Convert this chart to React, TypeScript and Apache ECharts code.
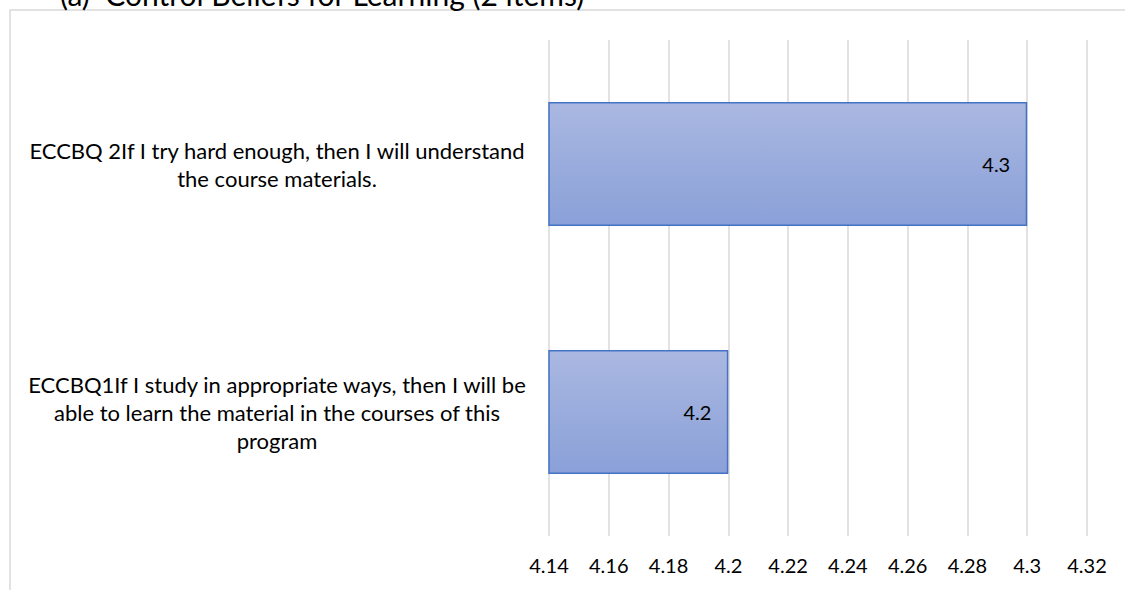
import React, { useEffect, useRef } from "react";
import * as echarts from "echarts";

const categories = [
  "ECCBQ1If I study in appropriate ways, then I will be\nable to learn the material in the courses of this\nprogram",
  "ECCBQ 2If I try hard enough, then I will understand\nthe course materials.",
];
const values = [4.2, 4.3];
const axisMin = 4.14;
const axisMax = 4.32;
const axisStep = 0.02;
const titleText = "(a)  Control Beliefs for Learning (2 items)";

const FONT = "Lato";

export default function App() {
  const ref = useRef<HTMLDivElement>(null);
  useEffect(() => {
    if (!ref.current) return;
    const chart = echarts.init(ref.current, undefined, { renderer: "svg" });
    chart.setOption({
      animation: false,
      backgroundColor: "#ffffff",
      textStyle: { fontFamily: FONT },
      graphic: [
        {
          type: "rect",
          shape: { x: 10, y: 10, width: 1300, height: 800 },
          style: { fill: "none", stroke: "#d9d9d9", lineWidth: 1.5 },
          z: 0,
        },
        {
          type: "text",
          x: 60,
          y: 9,
          style: {
            text: titleText,
            fontSize: 30,
            fontFamily: FONT,
            fill: "#000000",
            verticalAlign: "bottom",
          },
        },
      ],
      grid: {
        left: 549,
        right: 38,
        top: 40,
        bottom: 54,
        containLabel: false,
        outerBoundsMode: "none",
      },
      xAxis: {
        type: "value",
        min: axisMin,
        max: axisMax,
        interval: axisStep,
        axisLine: { show: false },
        axisTick: { show: false },
        splitLine: { show: true, lineStyle: { color: "#d9d9d9", width: 1.5 } },
        axisLabel: {
          margin: 19,
          fontSize: 20,
          fontFamily: FONT,
          color: "#000000",
          formatter: (v: number) => String(parseFloat(v.toFixed(2))),
        },
      },
      yAxis: {
        type: "category",
        data: categories,
        axisLine: { show: false },
        axisTick: { show: false },
        splitLine: { show: false },
        axisLabel: {
          margin: 272,
          align: "center",
          fontSize: 22,
          lineHeight: 28,
          fontFamily: FONT,
          color: "#000000",
        },
      },
      series: [
        {
          type: "bar",
          data: values,
          barWidth: "50%",
          itemStyle: {
            color: new echarts.graphic.LinearGradient(0, 0, 0, 1, [
              { offset: 0, color: "#aab8e1" },
              { offset: 1, color: "#8aa0d8" },
            ]),
            borderColor: "#4472c4",
            borderWidth: 1.5,
          },
          label: {
            show: true,
            position: "insideRight",
            distance: 17,
            fontSize: 20,
            fontFamily: FONT,
            color: "#000000",
            formatter: (p: any) => String(p.value),
          },
        },
      ],
    });
    return () => chart.dispose();
  }, []);
  return (
    <div
      ref={ref}
      style={{ position: "fixed", left: 0, top: 0, width: 1125, height: 590 }}
    />
  );
}
